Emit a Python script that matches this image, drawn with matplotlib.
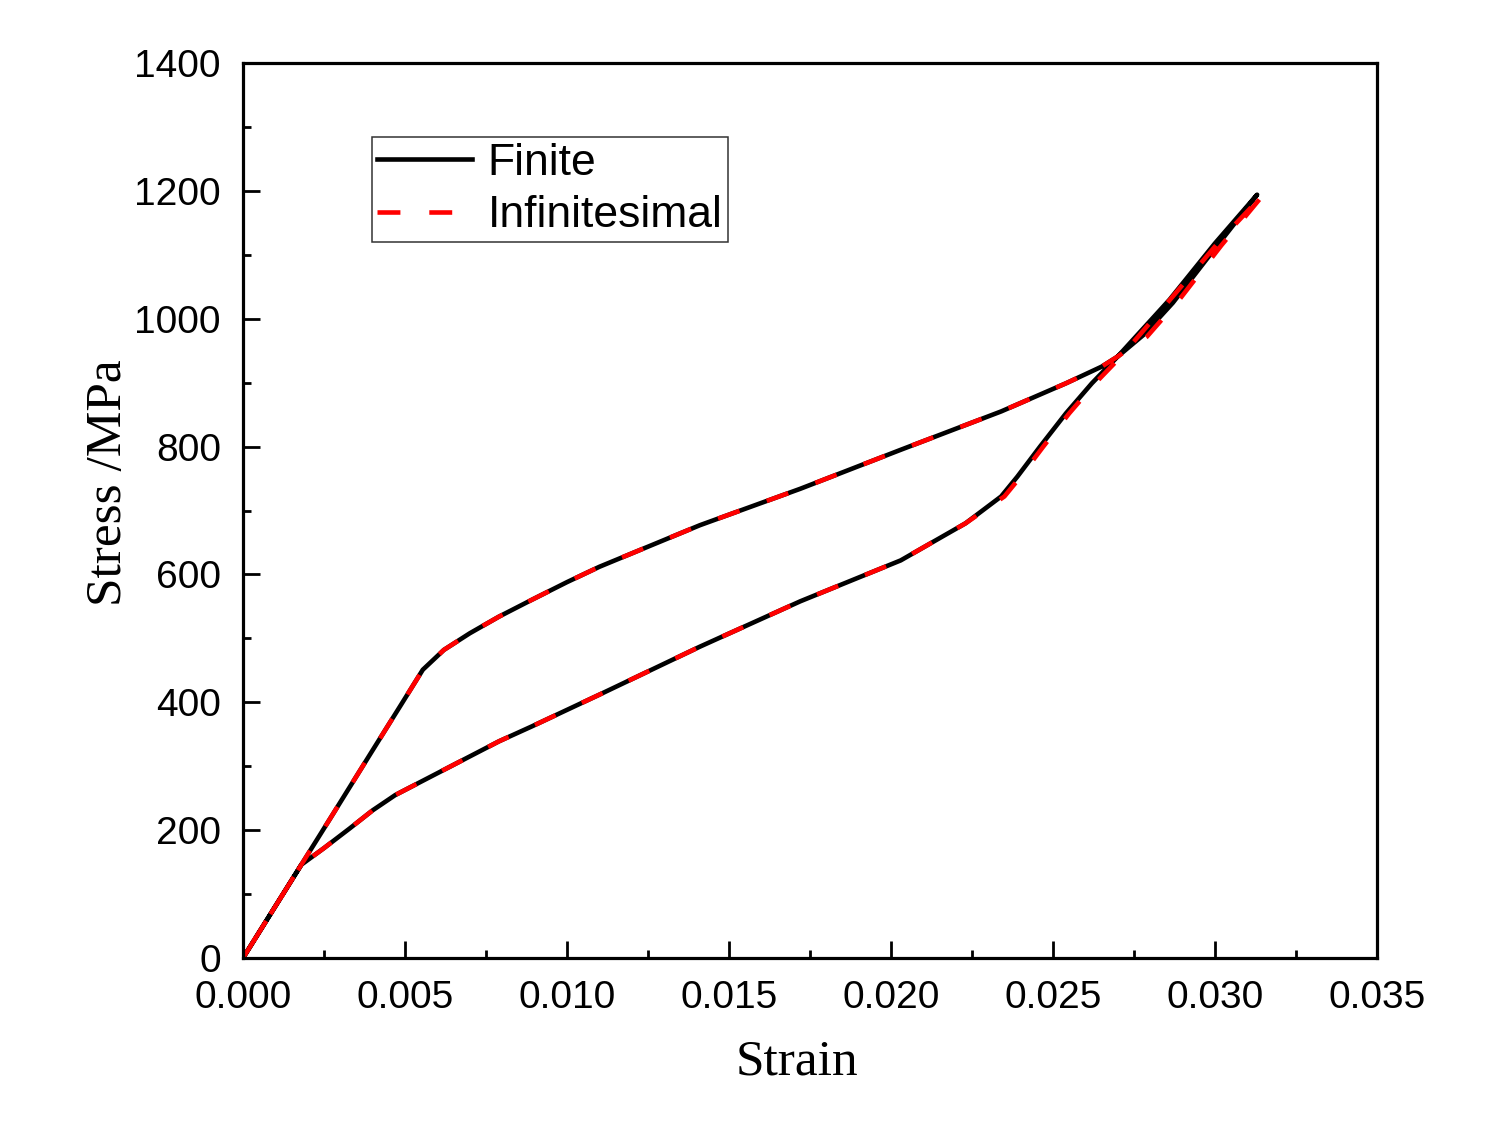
import numpy as np
import matplotlib.pyplot as plt
from matplotlib.ticker import MultipleLocator, FormatStrFormatter

# Finite: loading branch then unloading branch
fin_strain = [0, 0.0009, 0.0018, 0.0027, 0.0040, 0.0049, 0.00555, 0.0062, 0.0070,
              0.0079, 0.0089, 0.0100, 0.0110, 0.0141, 0.0172, 0.0203, 0.0234,
              0.0254, 0.0265, 0.0270, 0.0278, 0.0287, 0.0300, 0.0313,
              0.0300, 0.0286, 0.0270, 0.0262, 0.0254, 0.0246, 0.0239, 0.0234,
              0.0223, 0.0203, 0.0172, 0.0141, 0.0110, 0.0089, 0.0079, 0.0063,
              0.0047, 0.0040, 0.0033, 0.0025, 0.0018, 0.0009, 0]
fin_stress = [0, 73, 146, 219, 325, 398, 451, 482, 508,
              534, 560, 588, 612, 677, 734, 795, 855,
              899, 925, 941, 975, 1025, 1110, 1194,
              1118, 1030, 941, 899, 852, 800, 753, 722,
              680, 622, 558, 487, 412, 362, 339, 297,
              255, 231, 203, 172, 146, 73, 0]

# Infinitesimal
inf_strain = [0, 0.0009, 0.0018, 0.0027, 0.0040, 0.0049, 0.00555, 0.0062, 0.0070,
              0.0079, 0.0089, 0.0100, 0.0110, 0.0141, 0.0172, 0.0203, 0.0234,
              0.0254, 0.0265, 0.0270, 0.0279, 0.0289, 0.0302, 0.03154,
              0.0302, 0.0287, 0.0271, 0.0263, 0.0255, 0.0247, 0.0240, 0.0235,
              0.0223, 0.0203, 0.0172, 0.0141, 0.0110, 0.0089, 0.0079, 0.0063,
              0.0047, 0.0040, 0.0033, 0.0025, 0.0018, 0.0009, 0]
inf_stress = [0, 73, 146, 219, 325, 398, 451, 482, 508,
              534, 560, 588, 612, 677, 734, 795, 855,
              899, 925, 941, 972, 1030, 1115, 1197,
              1125, 1035, 941, 899, 852, 800, 753, 722,
              680, 622, 558, 487, 412, 362, 339, 297,
              255, 231, 203, 172, 146, 73, 0]

sans = ['Liberation Sans', 'DejaVu Sans']
serif = ['Liberation Serif', 'DejaVu Serif']

fig = plt.figure(figsize=(15, 11.25), dpi=100)
ax = fig.add_axes([0.162, 0.1484, 0.756, 0.7956])

ax.plot(fin_strain, fin_stress, color='black', lw=3.3, label='Finite')
ax.plot(inf_strain, inf_stress, color='red', lw=3.3, linestyle=(0, (5.0, 6.3)),
        label='Infinitesimal')

ax.set_xlim(0, 0.035)
ax.set_ylim(0, 1400)
ax.xaxis.set_major_locator(MultipleLocator(0.005))
ax.xaxis.set_minor_locator(MultipleLocator(0.0025))
ax.yaxis.set_major_locator(MultipleLocator(200))
ax.yaxis.set_minor_locator(MultipleLocator(100))
ax.xaxis.set_major_formatter(FormatStrFormatter('%.3f'))

ax.tick_params(which='both', direction='in', width=2, top=False, right=False)
ax.tick_params(which='major', length=12, pad=16)
ax.tick_params(which='minor', length=6)
for lab in ax.get_xticklabels() + ax.get_yticklabels():
    lab.set_family(sans)
    lab.set_fontsize(28)
for s in ax.spines.values():
    s.set_linewidth(2.3)

ax.set_xlabel('Strain', family=serif, fontsize=37, va='baseline')
ax.set_ylabel('Stress /MPa', family=serif, fontsize=37, va='baseline')
ax.xaxis.set_label_coords(0.4885, -0.1296)
ax.yaxis.set_label_coords(-0.1078, 0.5313)

leg = ax.legend(loc='upper left', bbox_to_anchor=(0.1138, 0.917),
                prop={'family': sans, 'size': 32}, frameon=True, fancybox=False,
                edgecolor='black', handlelength=2.14, borderpad=0.12,
                labelspacing=0.26, handletextpad=0.34, borderaxespad=0)
leg.get_frame().set_linewidth(1.1)

fig.savefig('out.png', dpi=100)
